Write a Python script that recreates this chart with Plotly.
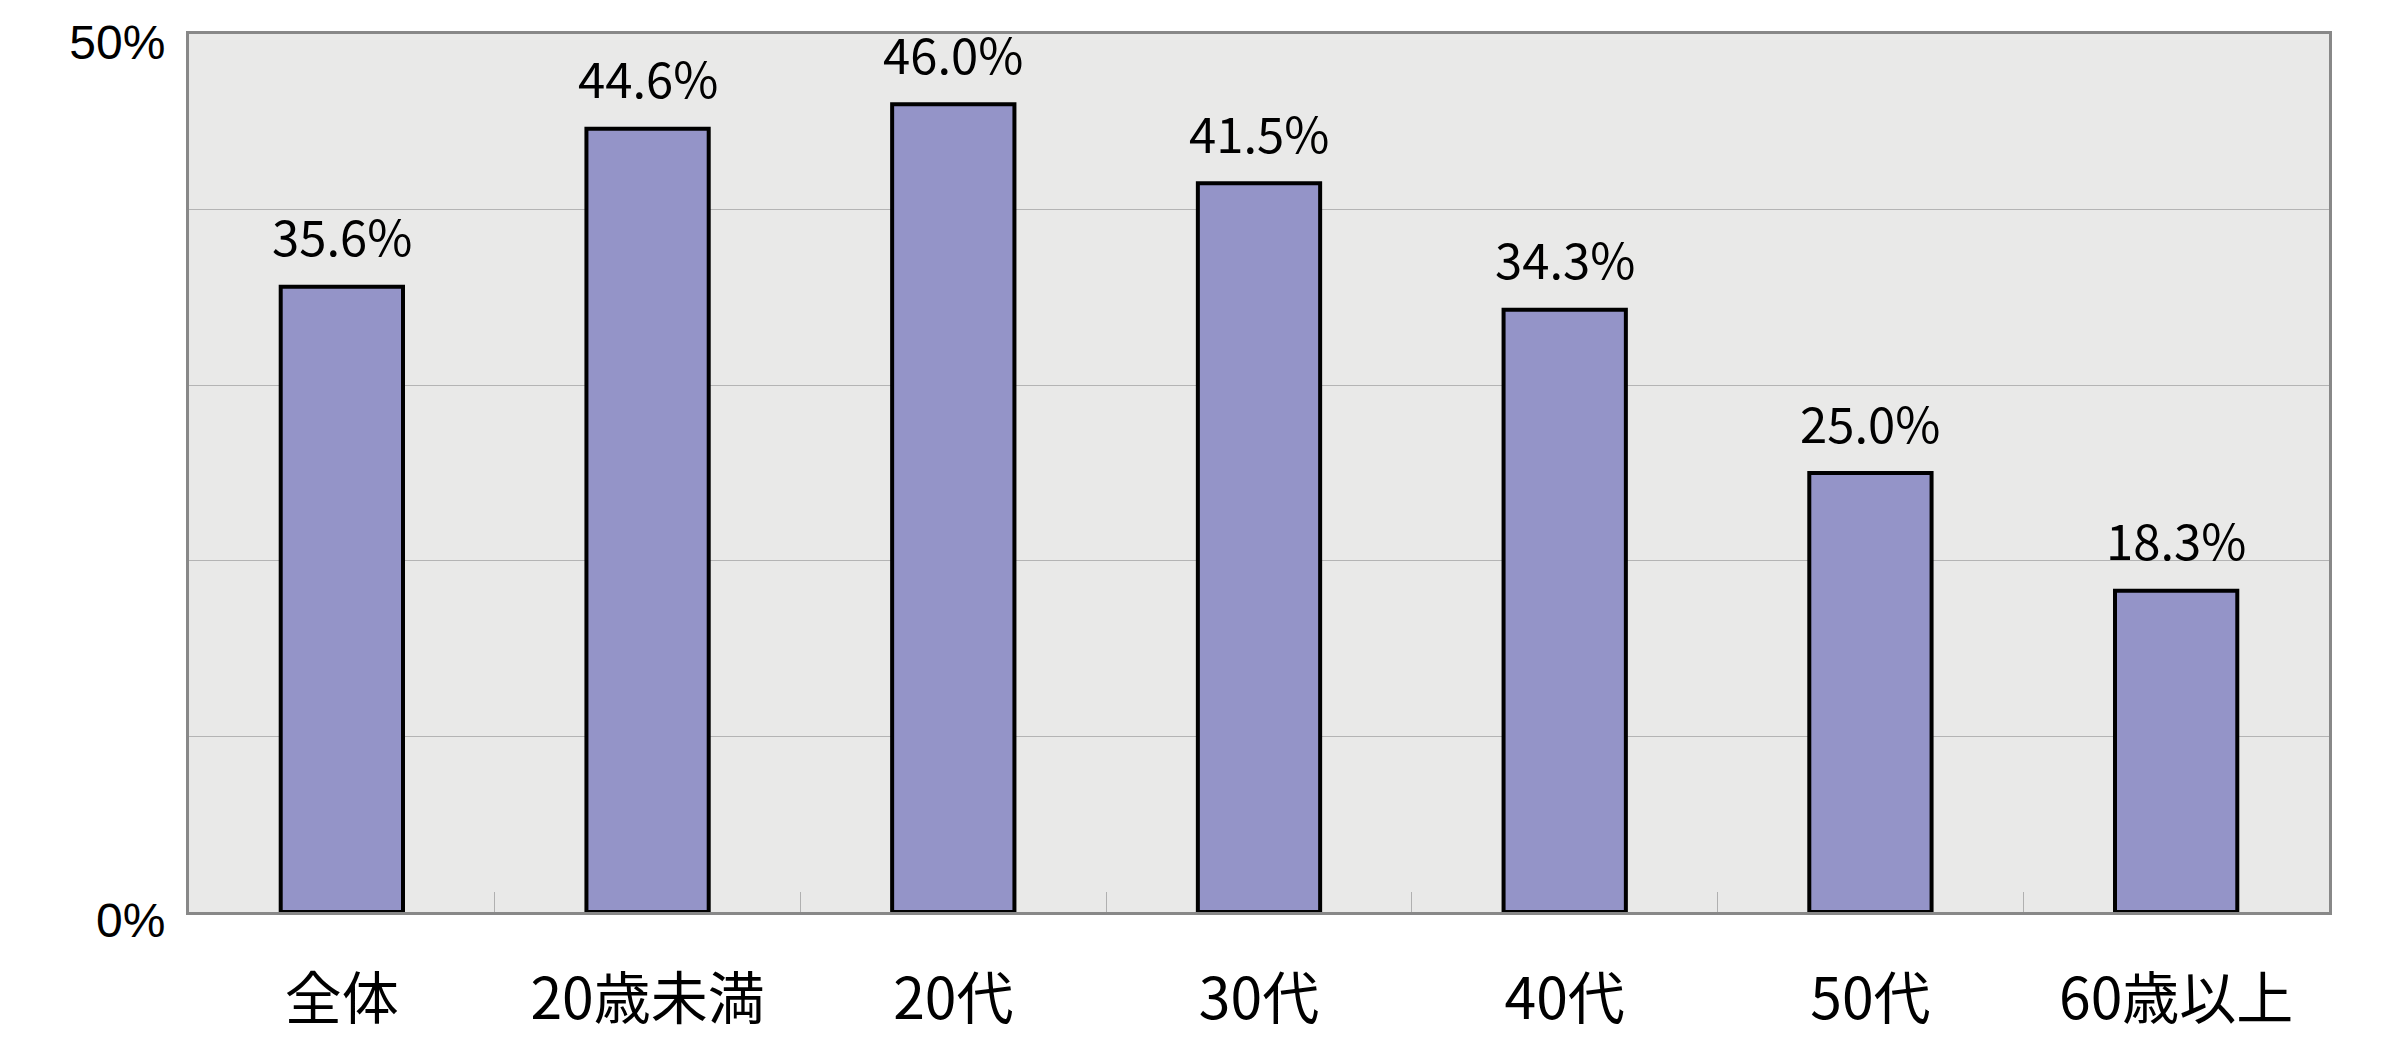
import plotly.graph_objects as go

categories = ["全体", "20歳未満", "20代", "30代", "40代", "50代", "60歳以上"]
values = [35.6, 44.6, 46.0, 41.5, 34.3, 25.0, 18.3]
value_labels = ["35.6%", "44.6%", "46.0%", "41.5%", "34.3%", "25.0%", "18.3%"]
y_tickvals = [0, 10, 20, 30, 40, 50]
y_ticktext = ["0%", "", "", "", "", "50%"]

FONT = "Noto Sans CJK JP"

fig = go.Figure()
fig.add_trace(go.Bar(
    x=categories, y=values,
    marker=dict(color="#9494C8", line=dict(color="#000000", width=4)),
    width=0.4,
    hoverinfo="skip",
))

for c, v, t in zip(categories, values, value_labels):
    fig.add_annotation(x=c, y=v, text=t, showarrow=False, yanchor="middle",
                       yshift=52, font=dict(family=FONT, size=49, color="#000"))

fig.update_layout(
    width=2387, height=1051,
    margin=dict(l=181, r=66, t=26, b=147),
    paper_bgcolor="white", plot_bgcolor="#E9E9E8",
    showlegend=False,
    font=dict(family=FONT, color="#000"),
)
fig.update_xaxes(
    type="category", automargin=False,
    showline=True, linecolor="#888888", linewidth=3, mirror=True,
    ticks="inside", tickson="boundaries", ticklen=20, tickcolor="#B0B0B0", tickwidth=1,
    tickfont=dict(family=FONT, size=57, color="#000"),
    ticklabelstandoff=36,
    showgrid=False,
)
fig.update_yaxes(
    range=[0, 50], automargin=False,
    tickvals=y_tickvals, ticktext=y_ticktext,
    ticklabeloverflow="allow",
    ticklabelshift=8,
    showgrid=True, gridcolor="#B4B4B4", gridwidth=1,
    showline=True, linecolor="#888888", linewidth=3, mirror=True,
    ticks="", tickfont=dict(family="Liberation Sans", size=48, color="#000"),
    ticklabelstandoff=11,
    zeroline=False,
)

fig.write_html("out.html")
